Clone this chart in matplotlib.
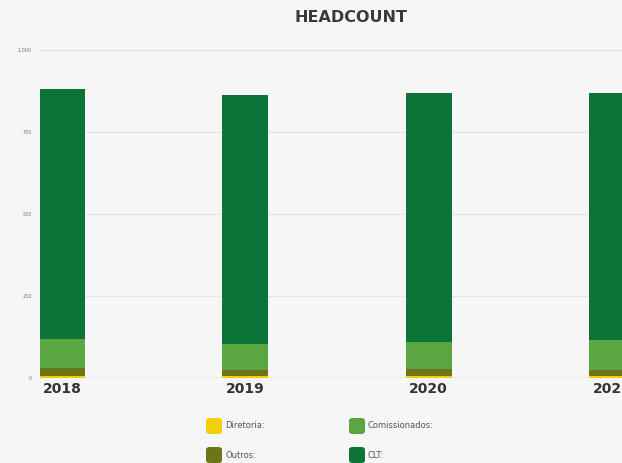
import matplotlib.pyplot as plt
from matplotlib.patches import FancyBboxPatch
import numpy as np

years = ["2018", "2019", "2020", "2021"]
diretoria = [6, 5, 5, 5]
outros = [24, 18, 21, 18]
comissionados = [88, 80, 85, 92]
clt = [763, 760, 758, 754]
series_names = ["Diretoria:", "Outros:", "Comissionados:", "CLT:"]
colors = ["#f2cf0a", "#6e7418", "#5aa641", "#0c7339"]
yticks = [0, 250, 500, 750, 1000]
ytick_labels = ["0", "250", "500", "750", "1.000"]

W, H = 622, 463
fig = plt.figure(figsize=(W / 100, H / 100), dpi=100)
bg = "#f6f6f6"
fig.patch.set_facecolor(bg)

ax = fig.add_axes([40 / W, 85 / H, (634 - 40) / W, (378 - 50) / H])
ax.set_facecolor(bg)

x = np.arange(len(years))
bottom = np.zeros(len(years))
for vals, col in zip([diretoria, outros, comissionados, clt], colors):
    ax.bar(x, vals, bottom=bottom, width=0.25, color=col, edgecolor="none", zorder=3)
    bottom += np.array(vals)

ax.set_xlim(-0.12, 3.12)
ax.set_ylim(0, 1000)
ax.set_yticks(yticks)
ax.set_yticklabels(ytick_labels, fontsize=3.5, color="#777777")
ax.set_xticks(x)
ax.set_xticklabels(years, fontsize=10, fontweight="bold", color="#333333")
ax.tick_params(axis="y", length=0, pad=6)
ax.tick_params(axis="x", length=0, pad=3)
ax.grid(axis="y", color="#e4e4e4", linewidth=0.8, zorder=0)
for s in ax.spines.values():
    s.set_visible(False)
ax.axhline(0, color="#cccccc", linewidth=1.0, zorder=2)

fig.text(351 / W, 1 - 18 / H, "HEADCOUNT", ha="center", va="center",
         fontsize=11.5, fontweight="bold", color="#3a3a3a")

# legend
pos = [(214, 426), (214, 455), (357, 426), (357, 455)]
for (px, py), name, col in zip(pos, series_names, colors):
    box = FancyBboxPatch(((px - 8) / W, 1 - (py + 8) / H), 16 / W, 16 / H,
                         boxstyle="round,pad=0,rounding_size=0.006",
                         transform=fig.transFigure, facecolor=col, edgecolor="none")
    fig.patches.append(box)
    fig.text((px + 11) / W, 1 - py / H, name, ha="left", va="center",
             fontsize=6, color="#555555")

fig.savefig("out.png", dpi=100, facecolor=bg)
